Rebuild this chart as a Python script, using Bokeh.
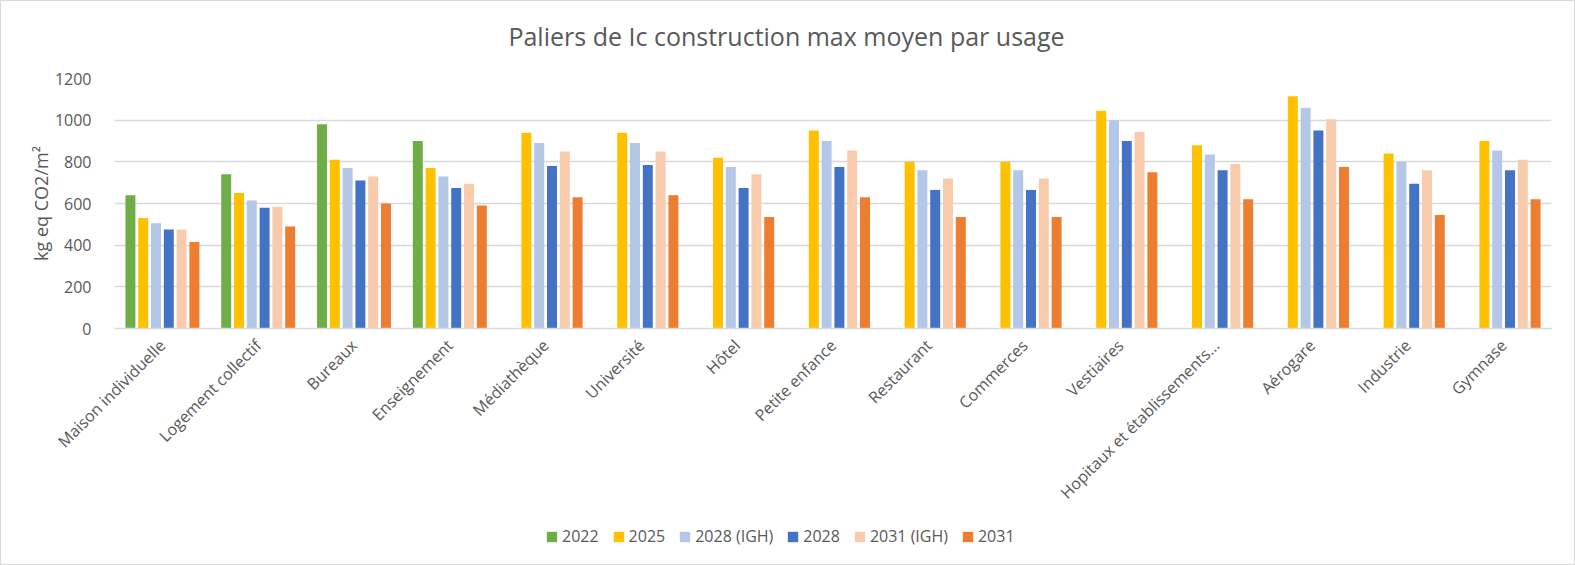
from bokeh.plotting import figure
from bokeh.layouts import column
from bokeh.models import (ColumnDataSource, FactorRange, Range1d, FixedTicker,
                          Legend, LegendItem, Label)
from bokeh.transform import dodge
from bokeh.embed import file_html
from bokeh.resources import INLINE

nan = float("nan")

categories = [
    "Maison individuelle", "Logement collectif", "Bureaux", "Enseignement",
    "Médiathèque", "Université", "Hôtel", "Petite enfance", "Restaurant",
    "Commerces", "Vestiaires", "Hopitaux et établissements...", "Aérogare",
    "Industrie", "Gymnase",
]

series_names = ["2022", "2025", "2028 (IGH)", "2028", "2031 (IGH)", "2031"]

v2022 = [640, 740, 980, 900, nan, nan, nan, nan, nan, nan, nan, nan, nan, nan, nan]
v2025 = [530, 650, 810, 770, 940, 940, 820, 950, 800, 800, 1045, 880, 1115, 840, 900]
v2028_igh = [505, 615, 770, 730, 890, 890, 775, 900, 760, 760, 1000, 835, 1060, 800, 855]
v2028 = [475, 580, 710, 675, 780, 785, 675, 775, 665, 665, 900, 760, 950, 695, 760]
v2031_igh = [475, 585, 730, 695, 850, 850, 740, 855, 720, 720, 945, 790, 1005, 760, 810]
v2031 = [415, 490, 600, 590, 630, 640, 535, 630, 535, 535, 750, 620, 775, 545, 620]

y_ticks = [0, 200, 400, 600, 800, 1000, 1200]

colors = ["#70AD47", "#FFC000", "#B4C7E7", "#4472C4", "#F8CBAD", "#ED7D31"]
TEXT = "#595959"
GRID = "#D9D9D9"
FONT = "Open Sans"

W = 1573          # inner width (a 1px frame surrounds the whole chart)
LEFT = 113        # left border of every plot frame (the column aligns them)
RIGHT = 23
FRAME_W = W - LEFT - RIGHT
TITLE_H = 60
MAIN_H = 464
LEGEND_H = 39


def strip(height):
    fig = figure(width=W, height=height,
                 x_range=Range1d(0, FRAME_W), y_range=Range1d(0, height),
                 output_backend="svg", toolbar_location=None,
                 min_border_left=LEFT, min_border_right=RIGHT,
                 min_border_top=0, min_border_bottom=0)
    fig.outline_line_color = None
    fig.background_fill_color = "white"
    fig.border_fill_color = "white"
    fig.xaxis.visible = False
    fig.yaxis.visible = False
    fig.xgrid.visible = False
    fig.ygrid.visible = False
    return fig


# ---- title strip ----
pt = strip(TITLE_H)
pt.add_layout(Label(x=785 - LEFT, y=26,
                    text="Paliers de Ic construction max moyen par usage",
                    text_font=FONT, text_font_size="25px", text_color=TEXT,
                    text_align="center", text_baseline="middle"))

# ---- main chart ----
columns = [v2022, v2025, v2028_igh, v2028, v2031_igh, v2031]
data = {"cat": categories}
for i, col in enumerate(columns):
    data[f"s{i}"] = col
source = ColumnDataSource(data)

p = figure(
    x_range=FactorRange(*categories, range_padding=0),
    y_range=Range1d(0, 1200),
    width=W, height=MAIN_H,
    output_backend="svg", toolbar_location=None,
    min_border_left=LEFT, min_border_right=RIGHT,
    min_border_top=17, min_border_bottom=197,
)
p.outline_line_color = None
p.background_fill_color = "white"
p.border_fill_color = "white"

# clustered bars: six slots per category
pitch = 0.1336
bar_w = 0.104
for i, c in enumerate(colors):
    p.vbar(x=dodge("cat", (i - 2.5) * pitch, range=p.x_range), top=f"s{i}",
           width=bar_w, bottom=0, source=source,
           fill_color=c, line_color=None)

p.xgrid.grid_line_color = None
p.ygrid.grid_line_color = GRID
p.ygrid.grid_line_width = 1.5

p.yaxis.ticker = FixedTicker(ticks=y_ticks)
p.yaxis.axis_line_color = None
p.yaxis.major_tick_line_color = None
p.yaxis.minor_tick_line_color = None
p.yaxis.major_label_text_font = FONT
p.yaxis.major_label_text_font_size = "16px"
p.yaxis.major_label_text_color = TEXT
p.yaxis.major_label_standoff = 17
p.yaxis.axis_label = "kg eq CO2/m²"
p.yaxis.axis_label_text_font = FONT
p.yaxis.axis_label_text_font_size = "18px"
p.yaxis.axis_label_text_font_style = "normal"
p.yaxis.axis_label_text_color = TEXT
p.yaxis.axis_label_standoff = -1

p.xaxis.axis_line_color = GRID
p.xaxis.axis_line_width = 1.5
p.xaxis.major_tick_line_color = None
p.xaxis.minor_tick_line_color = None
p.xaxis.major_label_orientation = 0.7854
p.xaxis.major_label_text_font = FONT
p.xaxis.major_label_text_font_size = "16px"
p.xaxis.major_label_text_color = TEXT
p.xaxis.major_label_standoff = 8

# ---- legend strip ----
pl = strip(LEGEND_H)
# legend swatches: one renderer per series, with no visible bar of their own
swatches = [pl.vbar(x=[0], top=[nan], width=1, fill_color=c, line_color=None)
            for c in colors]
legend = Legend(
    items=[LegendItem(label=n, renderers=[r]) for n, r in zip(series_names, swatches)],
    orientation="horizontal", location=(544 - LEFT, 17),
    border_line_color=None, background_fill_alpha=0,
    padding=0, margin=0, spacing=13,
    glyph_width=13, glyph_height=13, label_standoff=4,
    label_text_font=FONT, label_text_font_size="16px", label_text_color=TEXT,
)
pl.add_layout(legend)

layout = column(pt, p, pl, spacing=0)
layout.styles = {"border": "1px solid #D9D9D9", "background-color": "white"}

open("out.html", "w").write(file_html(layout, INLINE))
